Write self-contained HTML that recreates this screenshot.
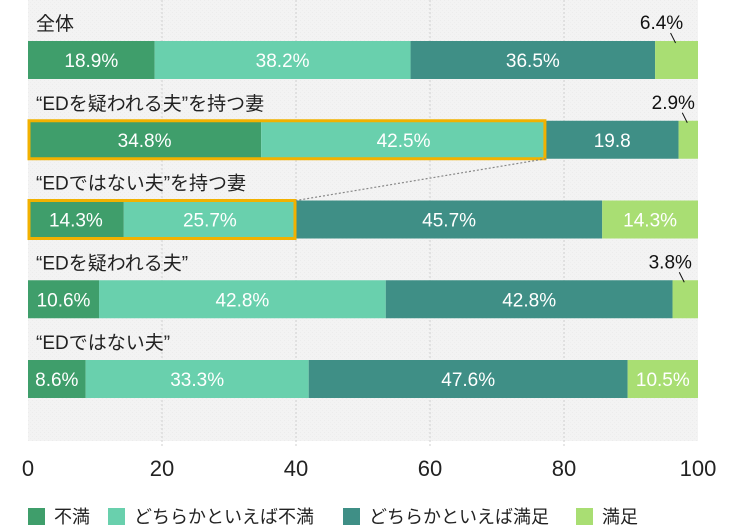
<!DOCTYPE html>
<html><head><meta charset="utf-8">
<style>
body{margin:0;background:#fff;}
svg{display:block;font-family:"Liberation Sans","Noto Sans CJK JP",sans-serif;}
</style></head>
<body>
<svg id="chart" width="740" height="527">
<defs><pattern id="grain" width="4" height="4" patternUnits="userSpaceOnUse"><rect width="4" height="4" fill="#f3f3f3"/><rect width="1" height="1" fill="#ececec"/><rect x="2" y="2" width="1" height="1" fill="#eeeeee"/></pattern></defs>
<rect x="28" y="0" width="670" height="441" fill="url(#grain)"/>
<g id="grid"></g>
<g id="bars"></g>
<g id="axis"></g>
<g id="legend"></g>
</svg>
<script>
const categories=["全体","“EDを疑われる夫”を持つ妻","“EDではない夫”を持つ妻","“EDを疑われる夫”","“EDではない夫”"];
const seriesNames=["不満","どちらかといえば不満","どちらかといえば満足","満足"];
const s1=[18.9,34.8,14.3,10.6,8.6];
const s2=[38.2,42.5,25.7,42.8,33.3];
const s3=[36.5,19.8,45.7,42.8,47.6];
const s4=[6.4,2.9,14.3,3.8,10.5];
const valueLabels=[["18.9%","38.2%","36.5%","6.4%"],["34.8%","42.5%","19.8","2.9%"],["14.3%","25.7%","45.7%","14.3%"],["10.6%","42.8%","42.8%","3.8%"],["8.6%","33.3%","47.6%","10.5%"]];
const ticks=[0,20,40,60,80,100];
const colors=["#3f9e6b","#69d0ad","#3f8f86","#a9de73"];
const NS="http://www.w3.org/2000/svg";
const X0=28,SC=6.7;
const x=v=>X0+v*SC;
const rowY=i=>41+i*79.75;
const BH=38;
function mk(tag,attrs,parent){const e=document.createElementNS(NS,tag);for(const k in attrs)e.setAttribute(k,attrs[k]);parent.appendChild(e);return e;}
const grid=document.getElementById('grid'),bars=document.getElementById('bars'),axis=document.getElementById('axis'),legend=document.getElementById('legend');
ticks.forEach(t=>{
 if(t>0&&t<100){const l=mk('line',{x1:x(t),x2:x(t),y1:0,y2:448,stroke:'#cfcfcf','stroke-dasharray':'2,2'},grid);
 
 }
 const tx=mk('text',{x:x(t),y:476,'font-size':22,'text-anchor':'middle',fill:'#222'},axis);
 tx.textContent=t;
 
 
});
const series=[s1,s2,s3,s4];
categories.forEach((c,i)=>{
 const y=rowY(i);
 const lab=mk('text',{x:36,y:y-11,'font-size':19,fill:'#222'},bars);
 lab.textContent=c;
 
 
 let acc=0;
 series.forEach((s,j)=>{
  const v=s[i];const r=mk('rect',{x:x(acc),y:y,width:v*SC,height:BH,fill:colors[j]},bars);
  
  
  const small=v<7;
  const t=mk('text',{'font-size':19,fill:small?'#111':'#fff','text-anchor':'middle'},bars);
  if(small){t.setAttribute('x',x(acc+v/2)-15);t.setAttribute('y',y-12);
   const ln=mk('line',{x1:x(acc+v/2)-6,y1:y-8,x2:x(acc+v/2)-1,y2:y+2,stroke:'#111','stroke-width':1},bars);
   
   }
  else{t.setAttribute('x',x(acc+v/2));t.setAttribute('y',y+BH/2+7);}
  t.textContent=valueLabels[i][j];
  
  
  acc+=v;
 });
});
// highlight boxes
[1,2].forEach(i=>{
 const y=rowY(i);const w=(s1[i]+s2[i])*SC;
 const b=mk('rect',{x:X0+1,y:y,width:w-2,height:BH,fill:'none',stroke:'#f2b100','stroke-width':3},bars);
 
 
});
const dl=mk('line',{x1:x(s1[1]+s2[1]),y1:rowY(1)+BH,x2:x(s1[2]+s2[2]),y2:rowY(2),stroke:'#888','stroke-dasharray':'2,2','stroke-width':1.2},bars);


let lx=28;
seriesNames.forEach((n,j)=>{
 const sw=mk('rect',{x:lx,y:508,width:17,height:17,fill:colors[j]},legend);
 
 
 const t=mk('text',{x:lx+26,y:523,'font-size':18,fill:'#222'},legend);
 t.textContent=n;
 
 
 lx+=[80,235,233,0][j];
});
</script>
</body></html>
